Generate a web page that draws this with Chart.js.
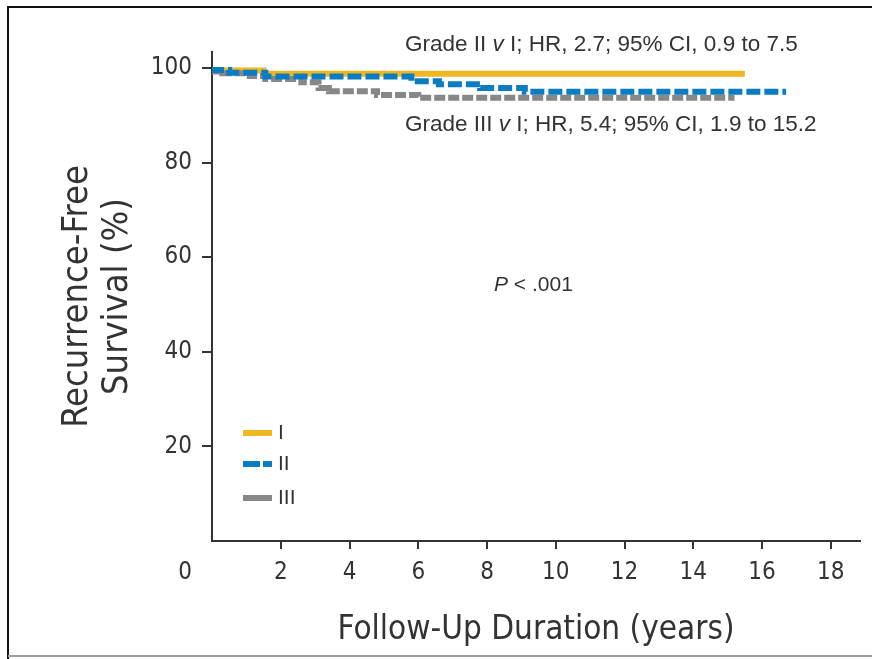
<!DOCTYPE html>
<html>
<head>
<meta charset="utf-8">
<script src="https://cdn.jsdelivr.net/npm/chart.js@4/dist/chart.umd.min.js"></script>
<style>
  html, body { margin: 0; padding: 0; background: #fff; }
  #wrap { width: 872px; height: 659px; position: relative; }
  canvas { display: block; }
</style>
</head>
<body>
<div id="wrap"><canvas id="km" width="872" height="659"></canvas></div>
<script>
// Kaplan-Meier recurrence-free survival by tumour grade (time in years, survival in %)
const gradeLabels = ['I', 'II', 'III'];

const gradeITimes = [0, 1.5, 6.3, 15.5];
const gradeISurv  = [100, 99.5, 98.8, 98.8];

const gradeIITimes = [0, 0.5, 1.55, 5.8, 6.6, 7.8, 9.1, 9.5, 16.7];
const gradeIISurv  = [100, 99.6, 99.0, 98.2, 97.2, 96.6, 95.8, 95.0, 95.0];

const gradeIIITimes = [0, 0.3, 1.1, 1.55, 2.6, 3.1, 3.4, 4.8, 6.0, 7.2, 15.2];
const gradeIIISurv  = [100, 99.3, 98.9, 98.3, 97.7, 97.0, 95.8, 95.1, 94.3, 93.7, 93.7];

const xTickValues = [2, 4, 6, 8, 10, 12, 14, 16, 18];
const yTickValues = [20, 40, 60, 80, 100];
const originLabel = '0';

const xAxisTitle = 'Follow-Up Duration (years)';
const yAxisTitle = ['Recurrence-Free', 'Survival (%)'];

// text runs: [text, italic]
const hrNoteII  = [['Grade II ', false], ['v', true], [' I; HR, 2.7; 95% CI, 0.9 to 7.5', false]];
const hrNoteIII = [['Grade III ', false], ['v', true], [' I; HR, 5.4; 95% CI, 1.9 to 15.2', false]];
const pValueNote = [['P', true], [' < .001', false]];

const COLORS = { I: '#EFB722', II: '#0A7DC2', III: '#878787' };
const NARROW = '"Liberation Sans Narrow", "DejaVu Sans Condensed", "Liberation Sans", Arial, sans-serif';
const SANS = '"Liberation Sans", Arial, Helvetica, sans-serif';
const INK = '#333333';

const toPoints = (t, s) => t.map((v, i) => ({ x: v, y: s[i] }));

function drawRuns(ctx, runs, x, y, size) {
  ctx.textBaseline = 'middle';
  ctx.textAlign = 'left';
  ctx.fillStyle = INK;
  let cx = x;
  for (const [txt, it] of runs) {
    ctx.font = (it ? 'italic ' : '') + size + 'px ' + SANS;
    ctx.fillText(txt, cx, y);
    cx += ctx.measureText(txt).width;
  }
}

const framePlugin = {
  id: 'frame',
  beforeDraw(chart) {
    const ctx = chart.ctx;
    ctx.save();
    ctx.fillStyle = '#fff';
    ctx.fillRect(0, 0, chart.width, chart.height);
    ctx.strokeStyle = '#111';
    ctx.lineWidth = 2;
    ctx.beginPath();
    ctx.moveTo(8, 659);
    ctx.lineTo(8, 7);
    ctx.lineTo(872, 7);
    ctx.stroke();
    ctx.strokeStyle = '#9a9a9a';
    ctx.beginPath();
    ctx.moveTo(8, 656);
    ctx.lineTo(872, 656);
    ctx.stroke();
    ctx.restore();
  }
};

const notesPlugin = {
  id: 'notes',
  afterDraw(chart) {
    const ctx = chart.ctx;
    const a = chart.chartArea;
    ctx.save();
    drawRuns(ctx, hrNoteII, a.left + 193, a.top - 7, 22.5);
    drawRuns(ctx, hrNoteIII, a.left + 193, a.top + 73, 22.5);
    drawRuns(ctx, pValueNote, a.left + 282, a.top + 233, 21);

    // shared origin label
    ctx.font = '24px ' + NARROW;
    ctx.fillStyle = INK;
    ctx.textAlign = 'center';
    ctx.textBaseline = 'middle';
    ctx.fillText(originLabel, a.left - 27, a.bottom + 32);

    // in-plot legend
    const lx = a.left + 31, lw = 29;
    const rows = [a.bottom - 108, a.bottom - 77, a.bottom - 43];
    const ds = chart.data.datasets;
    ctx.lineWidth = 6;
    ctx.lineCap = 'butt';
    rows.forEach((ry, i) => {
      ctx.strokeStyle = ds[i].borderColor;
      ctx.beginPath();
      if (i === 1) {
        ctx.moveTo(lx, ry); ctx.lineTo(lx + 17, ry);
        ctx.moveTo(lx + 20, ry); ctx.lineTo(lx + lw, ry);
      } else {
        ctx.moveTo(lx, ry); ctx.lineTo(lx + lw, ry);
      }
      ctx.stroke();
      ctx.font = '21px ' + SANS;
      ctx.fillStyle = INK;
      ctx.textAlign = 'left';
      ctx.textBaseline = 'middle';
      ctx.fillText(ds[i].label, lx + lw + 6, ry);
    });
    ctx.restore();
  }
};

new Chart(document.getElementById('km'), {
  type: 'line',
  data: {
    datasets: [
      { label: gradeLabels[0], data: toPoints(gradeITimes, gradeISurv), borderColor: COLORS.I,
        borderWidth: 6, stepped: 'after', pointRadius: 0, order: 2, borderCapStyle: 'butt' },
      { label: gradeLabels[1], data: toPoints(gradeIITimes, gradeIISurv), borderColor: COLORS.II,
        borderWidth: 6, stepped: 'after', pointRadius: 0, order: 0, borderDash: [14, 4], borderCapStyle: 'butt' },
      { label: gradeLabels[2], data: toPoints(gradeIIITimes, gradeIIISurv), borderColor: COLORS.III,
        borderWidth: 6, stepped: 'after', pointRadius: 0, order: 1, borderDash: [11, 3], borderCapStyle: 'butt' }
    ]
  },
  options: {
    responsive: false,
    animation: false,
    devicePixelRatio: 1,
    layout: { padding: { top: 52, right: 12, bottom: 0, left: 0 } },
    plugins: { legend: { display: false }, tooltip: { enabled: false } },
    scales: {
      x: {
        type: 'linear', min: 0, max: 18.85,
        afterBuildTicks: s => { s.ticks = xTickValues.map(v => ({ value: v })); },
        afterFit: s => { s.height = 118; },
        grid: { display: true, drawOnChartArea: false, drawTicks: true, tickLength: 8, color: INK, lineWidth: 2 },
        border: { display: true, color: INK, width: 2 },
        ticks: { font: { family: NARROW, size: 24 }, color: INK, padding: 9, maxRotation: 0, autoSkip: false },
        title: { display: true, text: xAxisTitle, color: INK,
                 font: { family: NARROW, size: 33, lineHeight: 1.0 }, padding: { top: 0, bottom: 12 } }
      },
      y: {
        type: 'linear', min: 0, max: 103.4,
        afterBuildTicks: s => { s.ticks = yTickValues.map(v => ({ value: v })); },
        afterFit: s => { s.width = 212; },
        grid: { display: true, drawOnChartArea: false, drawTicks: true, tickLength: 10, color: INK, lineWidth: 2 },
        border: { display: true, color: INK, width: 2 },
        ticks: { font: { family: NARROW, size: 24 }, color: INK, padding: 10 },
        title: { display: true, text: yAxisTitle, color: INK,
                 font: { family: NARROW, size: 36, lineHeight: 1.11 }, padding: { top: 58, bottom: 0 } }
      }
    }
  },
  plugins: [framePlugin, notesPlugin]
});
</script>
</body>
</html>
